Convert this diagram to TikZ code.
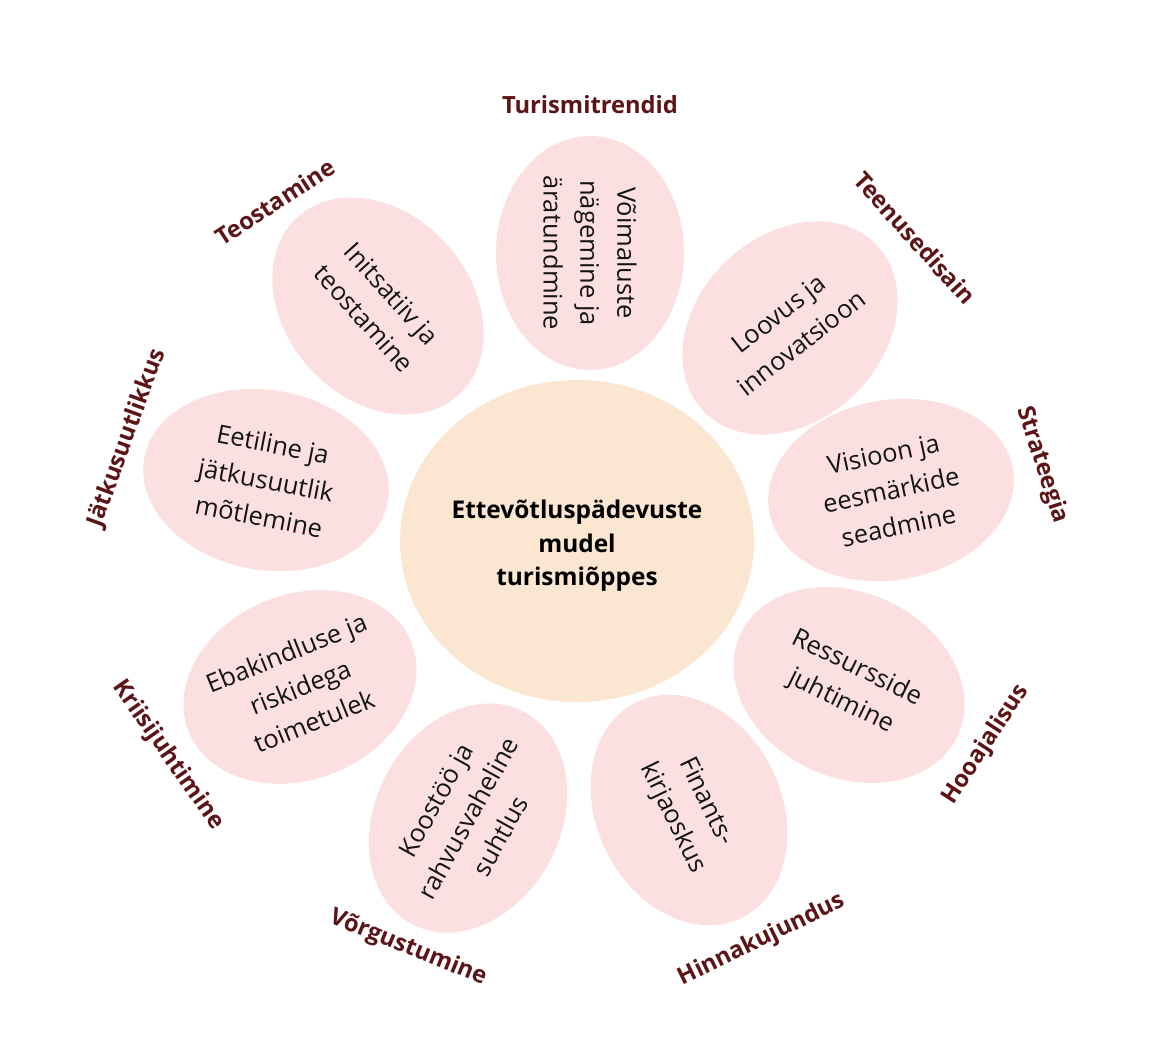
\documentclass[tikz,border=0pt]{standalone}
\usepackage{fontspec}
\setmainfont{Open Sans}
\usepackage{xcolor}
\usetikzlibrary{shapes.geometric}

\definecolor{petalpink}{RGB}{252,224,225}
\definecolor{corepeach}{RGB}{251,230,210}
\definecolor{labelred}{RGB}{92,20,22}

\tikzset{
  petal/.style={ellipse, fill=petalpink, minimum width=4.8cm, minimum height=3.7cm, inner sep=0pt},
  petaltext/.style={align=center, text=black!92, font=\fontsize{14.5}{21}\selectfont},
  theme/.style={text=labelred, font=\bfseries\fontsize{13.5}{16}\selectfont}
}

\begin{document}
\begin{tikzpicture}[x=0.02cm, y=-0.02cm]

        \useasboundingbox (0,0) rectangle (1161,1038);

        % Centre of the model
        \node[circle, fill=corepeach, minimum width=7.08cm, inner sep=0pt, yscale=0.91] (Core) at (577,541) {};
        \node[align=center, font=\bfseries\fontsize{13.9}{19}\selectfont] (CoreText) at (577,546) {Ettevõtluspädevuste\\mudel\\turismiõppes};

        % Petals (competences)
        \node[petal, rotate=90, minimum width=4.68cm, minimum height=3.76cm] (Voimalused) at (590,253) {};
        \node[petaltext, rotate=-90] (VoimalusedText) at (Voimalused) {Võimaluste\\nägemine ja\\äratundmine};

        \node[petal, rotate=44] (Loovus) at (790,328) {};
        \node[petaltext, rotate=38] (LoovusText) at (Loovus) {Loovus ja\\innovatsioon};

        \node[petal, rotate=10, minimum width=4.95cm, minimum height=3.6cm] (Visioon) at (891,490) {};
        \node[petaltext, rotate=12] (VisioonText) at (Visioon) {Visioon ja\\eesmärkide\\seadmine};

        \node[petal, rotate=-25] (Ressursid) at (849,685) {};
        \node[petaltext, rotate=-26] (RessursidText) at (Ressursid) {Ressursside\\juhtimine};

        \node[petal, rotate=-64] (Finants) at (689,810) {};
        \node[petaltext, rotate=-64] (FinantsText) at (Finants) {Finants-\\kirjaoskus};

        \node[petal, rotate=62] (Koostoo) at (468,818) {};
        \node[petaltext, rotate=61] (KoostooText) at (Koostoo) {Koostöö ja\\rahvusvaheline\\suhtlus};

        \node[petal, rotate=22] (Ebakindlus) at (300,687) {};
        \node[petaltext, rotate=22] (EbakindlusText) at (Ebakindlus) {Ebakindluse ja\\riskidega\\toimetulek};

        \node[petal, rotate=-10, minimum width=4.95cm, minimum height=3.6cm] (Eetiline) at (266,480) {};
        \node[petaltext, rotate=-11] (EetilineText) at (Eetiline) {Eetiline ja\\jätkusuutlik\\mõtlemine};

        \node[petal, rotate=-48] (Initsatiiv) at (378,306) {};
        \node[petaltext, rotate=-48] (InitsatiivText) at (Initsatiiv) {Initsatiiv ja\\teostamine};

        % Themes around the flower
        \node[theme] (Trendid) at (590,105) {Turismitrendid};
        \node[theme, rotate=-48] (Disain) at (915,238) {Teenusedisain};
        \node[theme, rotate=-72] (Strateegia) at (1042,465) {Strateegia};
        \node[theme, rotate=57] (Hooaeg) at (986,745) {Hooajalisus};
        \node[theme, rotate=26] (Hind) at (762,940) {Hinnakujundus};
        \node[theme, rotate=-22] (Vork) at (408,948) {Võrgustumine};
        \node[theme, rotate=-55] (Kriis) at (168,755) {Kriisijuhtimine};
        \node[theme, rotate=70] (Jatk) at (127,438) {Jätkusuutlikkus};
        \node[theme, rotate=33] (Teostus) at (275,202) {Teostamine};

\end{tikzpicture}
\end{document}
